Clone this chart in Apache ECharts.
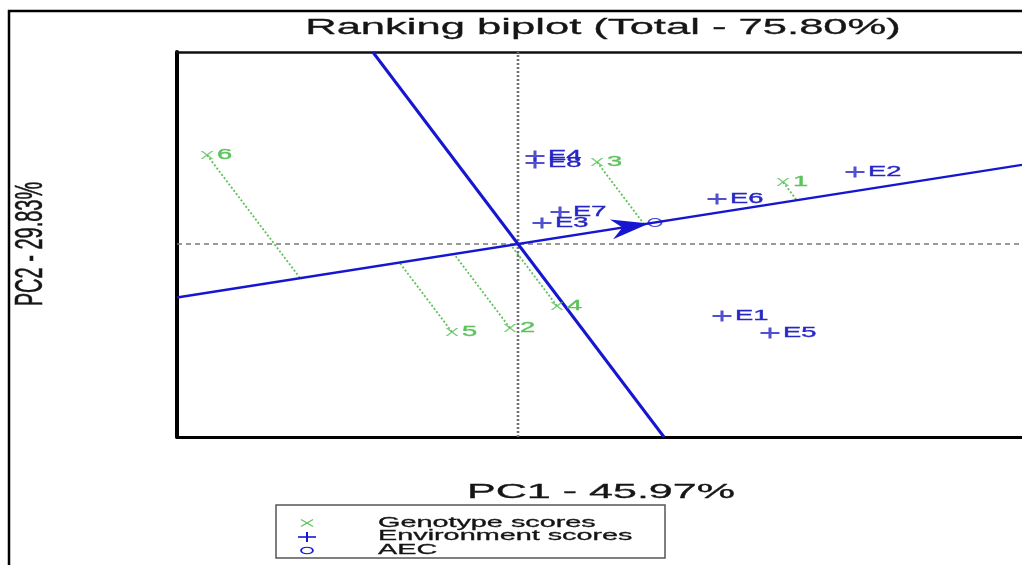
<!DOCTYPE html>
<html>
<head>
<meta charset="utf-8">
<title>Ranking biplot</title>
<style>
  html, body { margin: 0; padding: 0; background: #fff; }
  #chart { width: 1022px; height: 565px; }
</style>
<script src="https://cdn.jsdelivr.net/npm/echarts@6/dist/echarts.min.js"></script>
</head>
<body>
<div id="chart"></div>
<script>
// genotype scores (PC1, PC2)
const genotypes = ['1', '2', '3', '4', '5', '6']
const genoPC1 = [2.65, -0.08, 0.79, 0.39, -0.66, -3.11]
const genoPC2 = [0.62, -0.84, 0.82, -0.62, -0.88, 0.89]

// environment scores (PC1, PC2)
const envs = ['E1', 'E2', 'E3', 'E4', 'E5', 'E6', 'E7', 'E8']
const envPC1 = [2.04, 3.37, 0.24, 0.17, 2.52, 1.99, 0.42, 0.17]
const envPC2 = [-0.72, 0.72, 0.21, 0.88, -0.89, 0.45, 0.32, 0.81]

// average environment coordinate and the slope of the ordinate line
const aec = [1.37, 0.215]
const atcSlope = -1.322

const xRange = [-3.41, 5.04]
const yRange = [-1.93, 1.92]

const BLUE = '#1616d0'
const BLUE_TXT = '#2626c4'
const GREEN = '#5cc25c'
const FONT = '"Liberation Sans", Arial, sans-serif'
const STRETCH = 1.95 // the figure is stretched sideways, so is its text

const aecSlope = aec[1] / aec[0]

// foot of each genotype on the AEC abscissa, moving parallel to the ordinate
const projections = genotypes.map((g, i) => {
  const gx = genoPC1[i], gy = genoPC2[i]
  const px = (gy - atcSlope * gx) / (aecSlope - atcSlope)
  return { coords: [[gx, gy], [px, px * aecSlope]] }
})

const crossPath = 'path://M0,0L1.8,0L10,10L8.2,10ZM8.2,0L10,0L1.8,10L0,10Z'
const plusPath = 'path://M0,4H10V6H0ZM4.2,0H5.8V10H4.2Z'
const ringPath = 'path://M0,5A5,5 0 1 1 10,5A5,5 0 1 1 0,5Z'

function labelSeries(names, xs, ys, color, dx, size) {
  return {
    type: 'custom',
    silent: true,
    z: 10,
    data: names.map((n, i) => [xs[i], ys[i]]),
    renderItem: (params, api) => {
      const p = api.coord([api.value(0), api.value(1)])
      return {
        type: 'text',
        x: p[0] + dx,
        y: p[1],
        scaleX: STRETCH,
        style: {
          text: names[params.dataIndex],
          fill: color,
          stroke: color,
          lineWidth: 0.35,
          font: size + 'px ' + FONT,
          align: 'left', textAlign: 'left',
          verticalAlign: 'middle', textVerticalAlign: 'middle'
        }
      }
    }
  }
}

function textEl(text, x, y, size, sx, align) {
  return {
    type: 'text', x: x, y: y, scaleX: sx, silent: true,
    style: {
      text: text, fill: '#151515', stroke: '#151515', lineWidth: 0.3, font: size + 'px ' + FONT,
      align: align, textAlign: align, verticalAlign: 'middle', textVerticalAlign: 'middle'
    }
  }
}

const chart = echarts.init(document.getElementById('chart'), null, { renderer: 'canvas' })

chart.setOption({
  animation: false,
  backgroundColor: '#fff',
  grid: { left: 177, right: 0, top: 52, bottom: 128 },
  xAxis: [
    {
      type: 'value', min: xRange[0], max: xRange[1], position: 'bottom',
      axisLine: { onZero: false, lineStyle: { color: '#000', width: 3 } },
      axisTick: { show: false }, axisLabel: { show: false }, splitLine: { show: false }
    },
    {
      type: 'value', min: xRange[0], max: xRange[1], position: 'top',
      axisLine: { onZero: false, lineStyle: { color: '#111', width: 2.5 } },
      axisTick: { show: false }, axisLabel: { show: false }, splitLine: { show: false }
    }
  ],
  yAxis: {
    type: 'value', min: yRange[0], max: yRange[1],
    axisLine: { onZero: false, lineStyle: { color: '#000', width: 4 } },
    axisTick: { show: false }, axisLabel: { show: false }, splitLine: { show: false }
  },
  series: [
    // reference axes through the origin
    {
      type: 'line', silent: true, symbol: 'none',
      data: [[xRange[0], 0], [xRange[1], 0]],
      lineStyle: { color: '#7a7a7a', width: 1.3, type: [5, 4] }
    },
    {
      type: 'line', silent: true, symbol: 'none',
      data: [[0, yRange[0]], [0, yRange[1]]],
      lineStyle: { color: '#707070', width: 2.6, type: [2, 2] }
    },
    // projections of genotypes onto the AEC
    {
      type: 'lines', coordinateSystem: 'cartesian2d', silent: true,
      data: projections,
      lineStyle: { color: GREEN, width: 1.8, type: [2, 2], opacity: 1 }
    },
    // AEC abscissa
    {
      type: 'line', silent: true, symbol: 'none',
      data: [[xRange[0], xRange[0] * aecSlope], [xRange[1], xRange[1] * aecSlope]],
      lineStyle: { color: BLUE, width: 2.4 }
    },
    // AEC ordinate
    {
      type: 'line', silent: true, symbol: 'none',
      data: [[yRange[1] / atcSlope, yRange[1]], [yRange[0] / atcSlope, yRange[0]]],
      lineStyle: { color: BLUE, width: 3 }
    },
    // arrow head pointing to the AEC
    {
      type: 'custom', silent: true, z: 5,
      data: [aec],
      renderItem: (params, api) => {
        const o = api.coord([0, 0])
        const a = api.coord([api.value(0), api.value(1)])
        const len = Math.hypot(a[0] - o[0], a[1] - o[1])
        const ux = (a[0] - o[0]) / len, uy = (a[1] - o[1]) / len
        const nx = -uy, ny = ux
        const tip = [a[0] - ux * 6, a[1] - uy * 6]
        const back = 38, notch = 27, half = 10
        return {
          type: 'polygon',
          shape: {
            points: [
              tip,
              [tip[0] - ux * back + nx * half, tip[1] - uy * back + ny * half],
              [tip[0] - ux * notch, tip[1] - uy * notch],
              [tip[0] - ux * back - nx * half, tip[1] - uy * back - ny * half]
            ]
          },
          style: { fill: BLUE }
        }
      }
    },
    {
      name: 'AEC', type: 'scatter', silent: true, z: 6,
      data: [aec],
      symbol: ringPath, symbolSize: [13, 8],
      itemStyle: { color: 'rgba(0,0,0,0)', borderColor: BLUE, borderWidth: 1.5 }
    },
    {
      name: 'Genotype scores', type: 'scatter', silent: true, z: 6,
      data: genoPC1.map((x, i) => [x, genoPC2[i]]),
      symbol: crossPath, symbolSize: [13, 8],
      itemStyle: { color: GREEN }
    },
    {
      name: 'Environment scores', type: 'scatter', silent: true, z: 6,
      data: envPC1.map((x, i) => [x, envPC2[i]]),
      symbol: plusPath, symbolSize: [19, 11],
      itemStyle: { color: BLUE_TXT }
    },
    labelSeries(genotypes, genoPC1, genoPC2, GREEN, 10, 14),
    labelSeries(envs, envPC1, envPC2, BLUE_TXT, 13, 14)
  ],
  graphic: [
    // outer frame
    { type: 'polyline', silent: true, shape: { points: [[9, 565], [9, 11], [1022, 11]] },
      style: { stroke: '#000', lineWidth: 2.5, fill: 'none' } },
    // titles
    textEl('Ranking biplot (Total - 75.80%)', 603, 28, 22, 1.98, 'center'),
    textEl('PC1 - 45.97%', 601, 492, 21, 2.05, 'center'),
    {
      type: 'text', x: 31, y: 244, rotation: Math.PI / 2, scaleY: STRETCH, silent: true,
      style: { text: 'PC2 - 29.83%', fill: '#151515', stroke: '#151515', lineWidth: 0.3, font: '20px ' + FONT,
        align: 'center', textAlign: 'center', verticalAlign: 'middle', textVerticalAlign: 'middle' }
    },
    // legend box
    { type: 'rect', silent: true, shape: { x: 276, y: 505, width: 389, height: 53 },
      style: { stroke: '#555', lineWidth: 1.5, fill: '#fff' } },
    { type: 'line', silent: true, shape: { x1: 301, y1: 519.5, x2: 313, y2: 526.5 }, style: { stroke: GREEN, lineWidth: 1.2 } },
    { type: 'line', silent: true, shape: { x1: 301, y1: 526.5, x2: 313, y2: 519.5 }, style: { stroke: GREEN, lineWidth: 1.2 } },
    { type: 'line', silent: true, shape: { x1: 298, y1: 537, x2: 316, y2: 537 }, style: { stroke: BLUE, lineWidth: 1.6 } },
    { type: 'line', silent: true, shape: { x1: 307, y1: 532, x2: 307, y2: 542 }, style: { stroke: BLUE, lineWidth: 2 } },
    { type: 'circle', silent: true, x: 307, y: 550.5, scaleX: 1.8, shape: { cx: 0, cy: 0, r: 3.3 },
      style: { stroke: BLUE, lineWidth: 1, fill: 'none' } },
    textEl('Genotype scores', 378, 523, 15, 1.92, 'left'),
    textEl('Environment scores', 378, 536, 15, 1.92, 'left'),
    textEl('AEC', 378, 550, 15, 1.92, 'left')
  ]
})
</script>
</body>
</html>
